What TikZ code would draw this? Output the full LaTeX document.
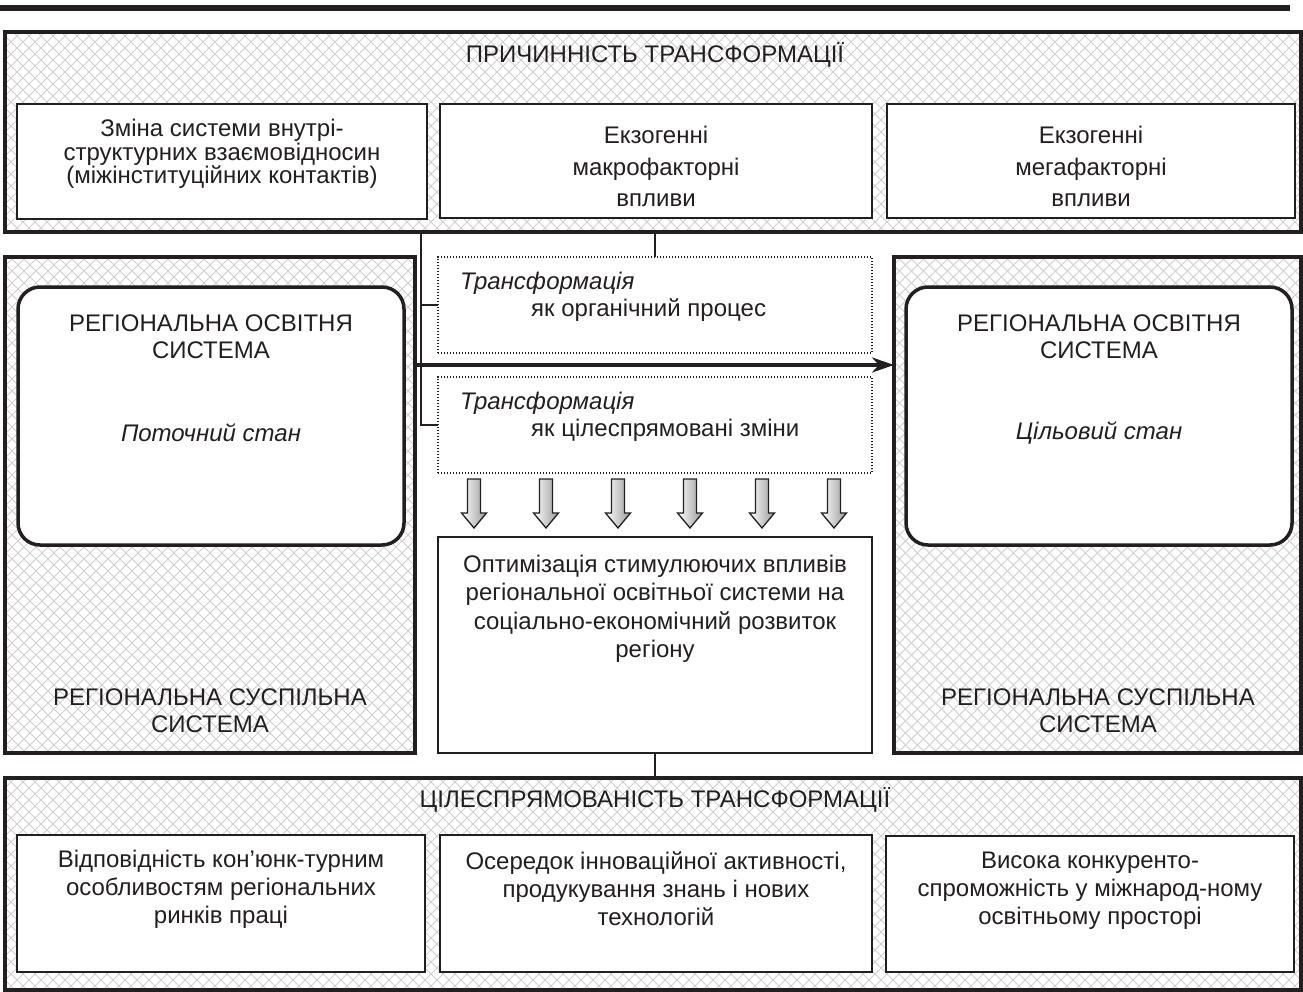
\documentclass[tikz,border=0pt]{standalone}
\usepackage{fontspec}
\setmainfont{Liberation Sans}
\usetikzlibrary{arrows.meta,calc}
\definecolor{ink}{HTML}{231F20}
\begin{document}
\begin{tikzpicture}[x=1pt,y=-1pt,
  hatched/.style={draw=ink, line width=3.5pt, inner sep=0pt, outer sep=0pt,
    path picture={
      \foreach \i in {-1404,-1392,...,1404}{
        \draw[gray!38, line width=0.9pt, shift={(path picture bounding box.center)}]
          (\i-700,-700) -- (\i+700,700) (\i+700,-700) -- (\i-700,700);}}},
  plainbox/.style={draw=ink, line width=1.5pt, fill=white, inner sep=0pt, outer sep=0pt},
  roundbox/.style={draw=ink, line width=3.5pt, fill=white, rounded corners=22pt, inner sep=0pt, outer sep=0pt},
  dotbox/.style={draw=ink, line width=1.2pt, dash pattern=on 1.2pt off 1.8pt, fill=white, inner sep=0pt, outer sep=0pt},
  txt/.style={inner sep=0pt, align=center, text=ink, font=\fontsize{24}{28}\selectfont},
  tight/.style={font=\fontsize{24}{23.5}\selectfont},
  loose/.style={font=\fontsize{24}{31.5}\selectfont},
  caps/.style={font=\fontsize{24}{27}\selectfont},
  optfont/.style={font=\fontsize{24}{28.5}\selectfont},
  conn/.style={draw=ink, line width=1.5pt},
  bigarrow/.style={draw=ink, line width=4pt, -{Stealth[length=22pt, width=15pt, inset=7pt]}},
  blockarrow/.style={draw=ink, line width=1.3pt, left color=white, right color=gray!80}
]
\useasboundingbox (0,0) rectangle (1303,992);

% top rule
\draw[ink, line width=6pt] (0,8) -- (1290,8);

% top section
\node[hatched, minimum width=1296pt, minimum height=200pt] (top) at (653,132) {};
\node[plainbox, minimum width=410pt, minimum height=115pt] (e1) at (222,161.5) {};
\node[plainbox, minimum width=432pt, minimum height=114pt] (e2) at (656,161) {};
\node[plainbox, minimum width=408pt, minimum height=114pt] (e3) at (1091,161) {};
\node[txt, caps] (ttop) at (655,55) {ПРИЧИННІСТЬ ТРАНСФОРМАЦІЇ};
\node[txt, tight] (te1) at (222,154) {Зміна системи внутрі-\\структурних взаємовідносин\\(міжінституційних контактів)};
\node[txt, loose] (te2) at (656,166.5) {Екзогенні\\макрофакторні\\впливи};
\node[txt, loose] (te3) at (1091,166.5) {Екзогенні\\мегафакторні\\впливи};

% middle section
\node[hatched, minimum width=410pt, minimum height=496pt] (ls) at (210,505) {};
\node[hatched, minimum width=407pt, minimum height=496pt] (rs) at (1097.5,505) {};
\node[roundbox, minimum width=386pt, minimum height=258pt] (lr) at (211,416) {};
\node[roundbox, minimum width=386pt, minimum height=258pt] (rr) at (1099,416) {};
\node[dotbox, minimum width=434pt, minimum height=96pt] (tr1) at (655,305) {};
\node[dotbox, minimum width=434pt, minimum height=96pt] (tr2) at (655,425) {};
\node[plainbox, minimum width=434pt, minimum height=216pt] (opt) at (655,645) {};

\node[txt, caps] (lrt) at (211,336.5) {РЕГІОНАЛЬНА ОСВІТНЯ\\СИСТЕМА};
\node[txt] (lrs) at (211,433) {\itshape Поточний стан};
\node[txt, caps] (rrt) at (1099,336.5) {РЕГІОНАЛЬНА ОСВІТНЯ\\СИСТЕМА};
\node[txt] (rrs) at (1099,433) {\itshape Цільовий стан};
\node[txt, caps] (lst) at (210,711) {РЕГІОНАЛЬНА СУСПІЛЬНА\\СИСТЕМА};
\node[txt, caps] (rst) at (1098,711) {РЕГІОНАЛЬНА СУСПІЛЬНА\\СИСТЕМА};

\node[txt, anchor=west] (tr1a) at (460,283) {\itshape Трансформація};
\node[txt, anchor=west] (tr1b) at (531,310) {як органічний процес};
\node[txt, anchor=west] (tr2a) at (460,403) {\itshape Трансформація};
\node[txt, anchor=west] (tr2b) at (531,430) {як цілеспрямовані зміни};

\node[txt, optfont] (optt) at (655,609) {Оптимізація стимулюючих впливів\\регіональної освітньої системи на\\соціально-економічний розвиток\\регіону};

% bottom section
\node[hatched, minimum width=1296pt, minimum height=212pt] (bot) at (653,884) {};
\node[plainbox, minimum width=408pt, minimum height=137pt] (g1) at (221,903.5) {};
\node[plainbox, minimum width=432pt, minimum height=137pt] (g2) at (656,903.5) {};
\node[plainbox, minimum width=408pt, minimum height=136pt] (g3) at (1090,904) {};
\node[txt, caps] (tbot) at (655,800) {ЦІЛЕСПРЯМОВАНІСТЬ ТРАНСФОРМАЦІЇ};
\node[txt] (tg1) at (221,889) {Відповідність кон’юнк-турним\\особливостям регіональних\\ринків праці};
\node[txt] (tg2) at (656,889) {Осередок інноваційної активності,\\продукування знань і нових\\технологій};
\node[txt] (tg3) at (1090,891) {Висока конкуренто-\\спроможність у міжнарод-ному\\освітньому просторі};

% connectors
\coordinate (jt) at (421,232);
\draw[conn] (jt) |- (tr2.west);
\draw[conn] (jt |- tr1.west) -- (tr1.west);
\draw[conn] (top.south -| tr1.north) -- (tr1.north);
\draw[conn] (opt.south) -- (bot.north -| opt.south);
\coordinate (mid) at ($(tr1.south)!0.5!(tr2.north)$);
\draw[bigarrow] (ls.east |- mid) -- (rs.west |- mid);

% block arrows
\foreach \c in {474,546,618,690,762,834}{
  \shade[blockarrow] (\c-6.5,479) -- (\c+6.5,479) -- (\c+6.5,513) -- (\c+12.5,513)
    -- (\c,528) -- (\c-12.5,513) -- (\c-6.5,513) -- cycle;
}
\end{tikzpicture}
\end{document}
